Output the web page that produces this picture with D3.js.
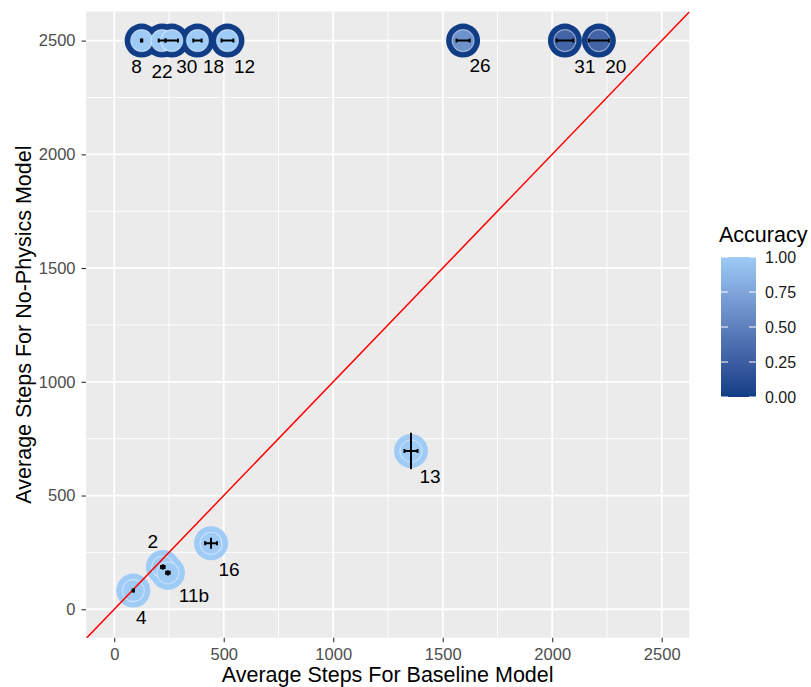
<!DOCTYPE html>
<html>
<head>
<meta charset="utf-8">
<script src="https://cdn.jsdelivr.net/npm/d3@7/dist/d3.min.js"></script>
<style>
  html, body { margin: 0; padding: 0; background: #fff; }
  svg { display: block; font-family: "Liberation Sans", Arial, sans-serif; }
</style>
</head>
<body>
<svg id="chart" width="811" height="687"></svg>
<script>
// Per-task results: average steps for each model, spread, and success rates.
const tasks        = ["8", "22", "30", "18", "12", "26", "31", "20", "13", "16", "2", "11b", "4"];
const baseSteps    = [125, 218, 263, 380, 517, 1593, 2058, 2213, 1355, 442, 222, 245, 87];
const noPhysSteps  = [2500, 2500, 2500, 2500, 2500, 2500, 2500, 2500, 696, 290, 186, 160, 82];
const baseErr      = [3, 15, 28, 19, 27, 30, 38, 46, 30, 27, 8, 8, 3];
const noPhysErr    = [0, 0, 0, 0, 0, 0, 0, 0, 80, 24, 12, 12, 2];
const noPhysAcc    = [0, 0, 0, 0, 0, 0, 0, 0, 1, 1, 1, 1, 1];
const baseAcc      = [1, 1, 1, 1, 1, 0.62, 0.3, 0.3, 1, 1, 1, 1, 1];

const xTicks = [0, 500, 1000, 1500, 2000, 2500];
const yTicks = [0, 500, 1000, 1500, 2000, 2500];
const accTicks = [0, 0.25, 0.5, 0.75, 1];

// Label offsets (px) for the task names, placed clear of the circles.
const labelShift = {
  "8": [-5, 26], "22": [0, 31], "30": [15, 26], "18": [16, 26], "12": [17, 26],
  "26": [17, 25], "31": [20, 26], "20": [17, 26], "13": [19, 26], "16": [18, 26],
  "2": [-10, -25], "11b": [26, 23], "4": [8, 27]
};

const rows = tasks.map((t, i) => ({
  task: t, bx: baseSteps[i], ny: noPhysSteps[i],
  be: baseErr[i], ne: noPhysErr[i], na: noPhysAcc[i], ba: baseAcc[i]
}));

const svg = d3.select("#chart");
const panel = { left: 86, right: 689.3, top: 11.5, bottom: 637.7 };

const x = d3.scaleLinear().domain([-129, 2626]).range([panel.left, panel.right]);
const y = d3.scaleLinear().domain([-125, 2628]).range([panel.bottom, panel.top]);
const color = d3.scaleLinear().domain([0, 1]).range(["#113d86", "#9fcbf7"])
  .interpolate(d3.interpolateLab);

// Panel background and grid
svg.append("rect")
  .attr("x", panel.left).attr("y", panel.top)
  .attr("width", panel.right - panel.left).attr("height", panel.bottom - panel.top)
  .attr("fill", "#EBEBEB");

svg.append("clipPath").attr("id", "clip").append("rect")
  .attr("x", panel.left).attr("y", panel.top)
  .attr("width", panel.right - panel.left).attr("height", panel.bottom - panel.top);

const minorX = [250, 750, 1250, 1750, 2250];
const minorY = [250, 750, 1250, 1750, 2250];
const grid = svg.append("g");
grid.selectAll(".mx").data(minorX).join("line")
  .attr("x1", d => x(d)).attr("x2", d => x(d))
  .attr("y1", panel.top).attr("y2", panel.bottom)
  .attr("stroke", "#fff").attr("stroke-width", 0.9);
grid.selectAll(".my").data(minorY).join("line")
  .attr("y1", d => y(d)).attr("y2", d => y(d))
  .attr("x1", panel.left).attr("x2", panel.right)
  .attr("stroke", "#fff").attr("stroke-width", 0.9);
grid.selectAll(".Mx").data(xTicks).join("line")
  .attr("x1", d => x(d)).attr("x2", d => x(d))
  .attr("y1", panel.top).attr("y2", panel.bottom)
  .attr("stroke", "#fff").attr("stroke-width", 1.8);
grid.selectAll(".My").data(yTicks).join("line")
  .attr("y1", d => y(d)).attr("y2", d => y(d))
  .attr("x1", panel.left).attr("x2", panel.right)
  .attr("stroke", "#fff").attr("stroke-width", 1.8);

// Axes
const xAxis = svg.append("g")
  .attr("transform", `translate(0,${panel.bottom})`)
  .call(d3.axisBottom(x).tickValues(xTicks).tickSize(4.5).tickPadding(6.5).tickFormat(d3.format("d")));
const yAxis = svg.append("g")
  .attr("transform", `translate(${panel.left},0)`)
  .call(d3.axisLeft(y).tickValues(yTicks).tickSize(4.5).tickPadding(6).tickFormat(d3.format("d")));
[xAxis, yAxis].forEach(a => {
  a.select(".domain").remove();
  a.selectAll(".tick line").attr("stroke", "#333").attr("stroke-width", 1.1);
  a.selectAll(".tick text").attr("fill", "#4D4D4D")
    .style("font-size", "16.5px").style("font-family", "Liberation Sans, Arial, sans-serif");
});

// Points: outer disc for no-physics accuracy, inner disc for baseline accuracy
const plot = svg.append("g").attr("clip-path", "url(#clip)");
plot.selectAll(".outer").data(rows).join("circle")
  .attr("cx", d => x(d.bx)).attr("cy", d => y(d.ny))
  .attr("r", 17).attr("fill", d => color(d.na));
plot.selectAll(".inner").data(rows).join("circle")
  .attr("cx", d => x(d.bx)).attr("cy", d => y(d.ny))
  .attr("r", 11).attr("fill", d => color(d.ba))
  .attr("stroke", "rgba(255,255,255,0.45)").attr("stroke-width", 1.1);

// Reference line y = x
plot.append("line")
  .attr("x1", x(-129)).attr("y1", y(-129))
  .attr("x2", x(2628)).attr("y2", y(2628))
  .attr("stroke", "#FF0000").attr("stroke-width", 1.5);

// Error bars
const eb = plot.append("g").attr("stroke", "#000").attr("stroke-width", 2);
rows.forEach(d => {
  const cx = x(d.bx), cy = y(d.ny);
  const x0 = x(d.bx - d.be), x1 = x(d.bx + d.be);
  eb.append("line").attr("x1", x0).attr("x2", x1).attr("y1", cy).attr("y2", cy);
  eb.append("line").attr("x1", x0).attr("x2", x0).attr("y1", cy - 2).attr("y2", cy + 2);
  eb.append("line").attr("x1", x1).attr("x2", x1).attr("y1", cy - 2).attr("y2", cy + 2);
  if (d.ne > 0) {
    eb.append("line").attr("x1", cx).attr("x2", cx)
      .attr("y1", y(d.ny - d.ne)).attr("y2", y(d.ny + d.ne));
  }
});

// Task labels
svg.append("g").selectAll("text").data(rows).join("text")
  .attr("x", d => x(d.bx) + labelShift[d.task][0])
  .attr("y", d => y(d.ny) + labelShift[d.task][1])
  .attr("text-anchor", "middle").attr("dominant-baseline", "central")
  .style("font-size", "19px").attr("fill", "#000")
  .text(d => d.task);

// Axis titles
svg.append("text")
  .attr("x", (panel.left + panel.right) / 2).attr("y", 682)
  .attr("text-anchor", "middle").style("font-size", "21.5px").attr("fill", "#000")
  .text("Average Steps For Baseline Model");
svg.append("text")
  .attr("transform", `translate(31,${(panel.top + panel.bottom) / 2}) rotate(-90)`)
  .attr("text-anchor", "middle").style("font-size", "21.5px").attr("fill", "#000")
  .text("Average Steps For No-Physics Model");

// Colour bar legend
const bar = { x: 721, w: 35, top: 257, bottom: 397 };
const defs = svg.append("defs");
const grad = defs.append("linearGradient").attr("id", "accGrad")
  .attr("x1", 0).attr("y1", 1).attr("x2", 0).attr("y2", 0);
d3.range(0, 1.0001, 0.1).forEach(t => {
  grad.append("stop").attr("offset", t).attr("stop-color", color(t));
});
svg.append("rect")
  .attr("x", bar.x).attr("y", bar.top).attr("width", bar.w).attr("height", bar.bottom - bar.top)
  .attr("fill", "url(#accGrad)");
const acc = d3.scaleLinear().domain([0, 1]).range([bar.bottom, bar.top]);
const lg = svg.append("g");
lg.selectAll(".tl").data(accTicks).join("line")
  .attr("x1", bar.x).attr("x2", bar.x + 7)
  .attr("y1", d => acc(d)).attr("y2", d => acc(d))
  .attr("stroke", "#fff").attr("stroke-width", 1);
lg.selectAll(".tr").data(accTicks).join("line")
  .attr("x1", bar.x + bar.w - 7).attr("x2", bar.x + bar.w)
  .attr("y1", d => acc(d)).attr("y2", d => acc(d))
  .attr("stroke", "#fff").attr("stroke-width", 1);
lg.selectAll("text").data(accTicks).join("text")
  .attr("x", 765).attr("y", d => acc(d))
  .attr("dominant-baseline", "central")
  .style("font-size", "16px").attr("fill", "#1a1a1a")
  .text(d => d3.format(".2f")(d));
svg.append("text")
  .attr("x", 719).attr("y", 235).attr("dominant-baseline", "central")
  .style("font-size", "21.5px").attr("fill", "#000")
  .text("Accuracy");
</script>
</body>
</html>
